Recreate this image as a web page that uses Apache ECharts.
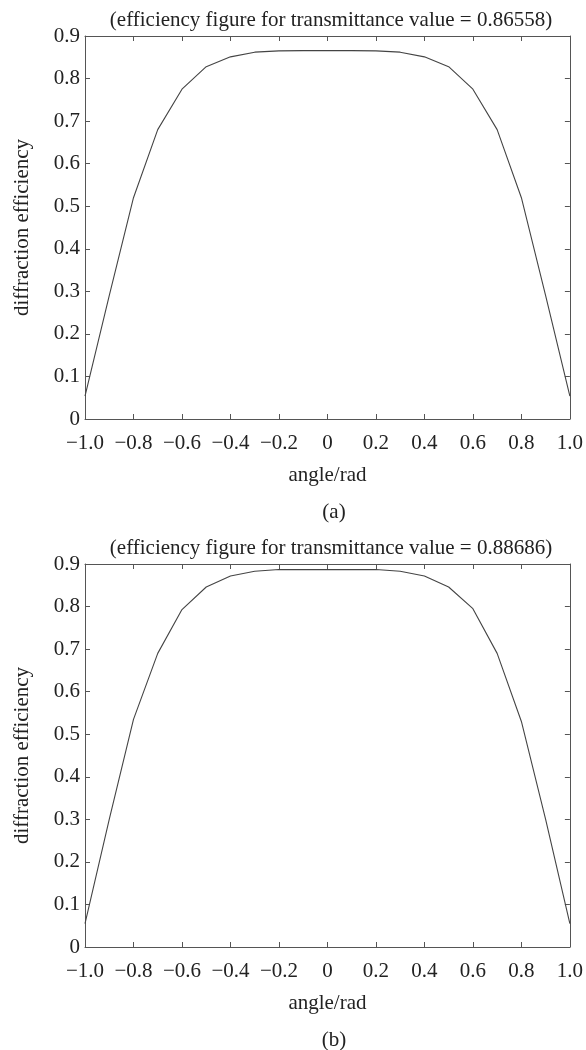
<!DOCTYPE html>
<html>
<head>
<meta charset="utf-8">
<script src="https://cdn.jsdelivr.net/npm/echarts@6/dist/echarts.min.js"></script>
<style>
  html, body { margin: 0; padding: 0; background: #fff; }
  #chart { width: 586px; height: 1050px; }
</style>
</head>
<body>
<div id="chart"></div>
<script>
// 数据
var angle = [-1.0, -0.9, -0.8, -0.7, -0.6, -0.5, -0.4, -0.3, -0.2, -0.1, 0, 0.1, 0.2, 0.3, 0.4, 0.5, 0.6, 0.7, 0.8, 0.9, 1.0];
var effA = [0.054, 0.29, 0.52, 0.68, 0.775, 0.828, 0.851, 0.862, 0.865, 0.8656, 0.8656, 0.8656, 0.865, 0.862, 0.851, 0.828, 0.775, 0.68, 0.52, 0.29, 0.054];
var effB = [0.055, 0.30, 0.535, 0.69, 0.793, 0.846, 0.872, 0.883, 0.887, 0.8868, 0.8869, 0.8868, 0.887, 0.883, 0.872, 0.846, 0.795, 0.69, 0.53, 0.30, 0.055];
var xTickLabels = ['\u22121.0', '\u22120.8', '\u22120.6', '\u22120.4', '\u22120.2', '0', '0.2', '0.4', '0.6', '0.8', '1.0'];
var yTickLabels = ['0', '0.1', '0.2', '0.3', '0.4', '0.5', '0.6', '0.7', '0.8', '0.9'];
var titles = ['(efficiency figure for transmittance value = 0.86558)', '(efficiency figure for transmittance value = 0.88686)'];
var captions = ['(a)', '(b)'];

var FONT = 'Liberation Serif';
var FS = 21;
var axisColor = '#555';
var lineColor = '#444';

var myChart = echarts.init(document.getElementById('chart'));

var gridTops = [36, 564];
var plotLeft = 85, plotRight = 13.5, plotH = 383;

function pairs(ys) {
    return angle.map(function (a, i) { return [a, ys[i]]; });
}

var grids = [], xAxes = [], yAxes = [], series = [], titleList = [];

for (var g = 0; g < 2; g++) {
    grids.push({ left: plotLeft, right: plotRight, top: gridTops[g], height: plotH, containLabel: false });

    // 下边 x 轴
    xAxes.push({
        type: 'value', gridIndex: g, min: -1, max: 1, interval: 0.2, position: 'bottom',
        name: 'angle/rad', nameLocation: 'middle', nameGap: 46,
        nameTextStyle: { fontFamily: FONT, fontSize: FS, color: '#222' },
        axisLine: { show: true, onZero: false, lineStyle: { color: axisColor, width: 1 } },
        axisTick: { show: true, inside: true, length: 5, lineStyle: { color: axisColor } },
        axisLabel: {
            margin: 14, fontFamily: FONT, fontSize: FS, color: '#222',
            formatter: function (v, i) { return xTickLabels[i]; }
        },
        splitLine: { show: false }
    });
    // 上边 x 轴（只有刻度）
    xAxes.push({
        type: 'value', gridIndex: g, min: -1, max: 1, interval: 0.2, position: 'top',
        axisLine: { show: true, onZero: false, lineStyle: { color: axisColor, width: 1 } },
        axisTick: { show: true, inside: true, length: 5, lineStyle: { color: axisColor } },
        axisLabel: { show: false },
        splitLine: { show: false }
    });
    // 左边 y 轴
    yAxes.push({
        type: 'value', gridIndex: g, min: 0, max: 0.9, interval: 0.1, position: 'left',
        name: 'diffraction efficiency', nameLocation: 'middle', nameGap: 52, nameRotate: 90,
        nameTextStyle: { fontFamily: FONT, fontSize: FS, color: '#222' },
        axisLine: { show: true, onZero: false, lineStyle: { color: axisColor, width: 1 } },
        axisTick: { show: true, inside: true, length: 5, lineStyle: { color: axisColor } },
        axisLabel: {
            margin: 5, fontFamily: FONT, fontSize: FS, color: '#222',
            formatter: function (v, i) { return yTickLabels[i]; }
        },
        splitLine: { show: false }
    });
    // 右边 y 轴（只有刻度）
    yAxes.push({
        type: 'value', gridIndex: g, min: 0, max: 0.9, interval: 0.1, position: 'right',
        axisLine: { show: true, onZero: false, lineStyle: { color: axisColor, width: 1 } },
        axisTick: { show: true, inside: true, length: 5, lineStyle: { color: axisColor } },
        axisLabel: { show: false },
        splitLine: { show: false }
    });

    series.push({
        type: 'line', xAxisIndex: g * 2, yAxisIndex: g * 2,
        data: pairs(g === 0 ? effA : effB),
        symbol: 'none', smooth: false,
        lineStyle: { color: lineColor, width: 1.1 },
        silent: true
    });

    titleList.push({
        text: titles[g], left: 326, top: gridTops[g] - 31, textAlign: 'center',
        textStyle: { fontFamily: FONT, fontSize: FS, fontWeight: 'normal', color: '#222' }
    });
    titleList.push({
        text: captions[g], left: 329, top: gridTops[g] + plotH + 78, textAlign: 'center',
        textStyle: { fontFamily: FONT, fontSize: FS, fontWeight: 'normal', color: '#222' }
    });
}

var option = {
    animation: false,
    backgroundColor: '#fff',
    title: titleList,
    grid: grids,
    xAxis: xAxes,
    yAxis: yAxes,
    series: series
};

myChart.setOption(option);
</script>
</body>
</html>
